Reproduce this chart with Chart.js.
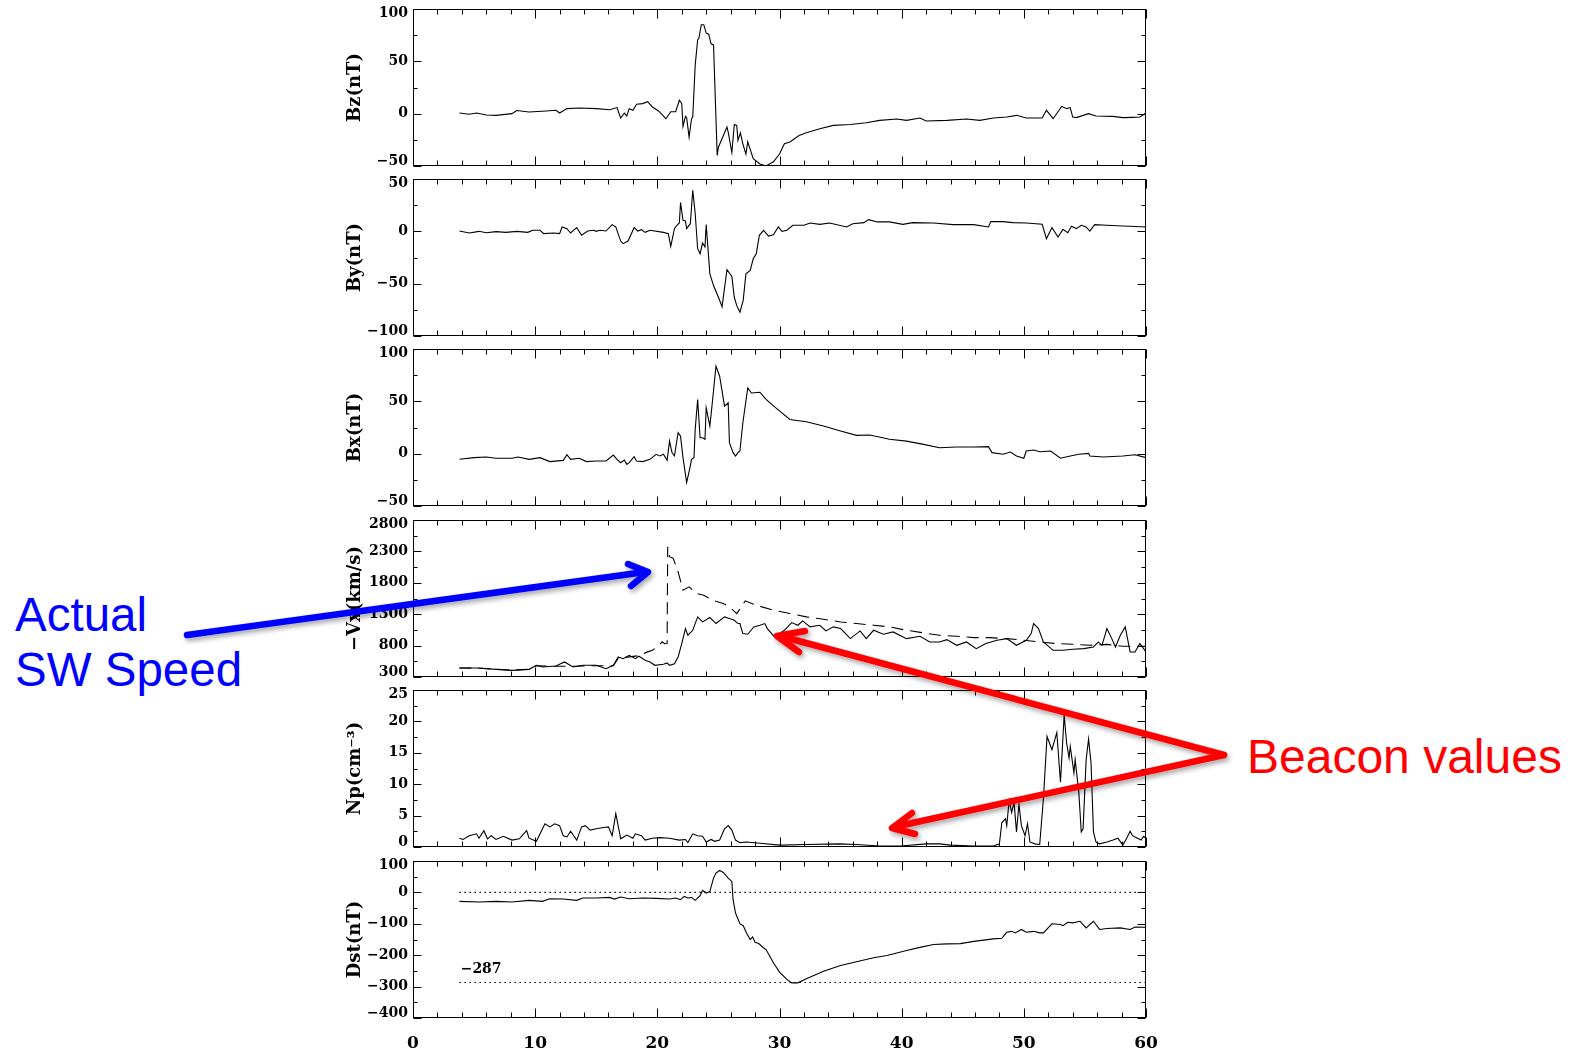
<!DOCTYPE html>
<html>
<head>
<meta charset="utf-8">
<script src="https://cdn.jsdelivr.net/npm/chart.js@4.4.1/dist/chart.umd.min.js"></script>
<style>
  html, body { margin: 0; padding: 0; background: #fff; }
  body { width: 1578px; height: 1050px; position: relative; overflow: hidden; }
  canvas.panel { position: absolute; left: 330px; }
  .note { position: absolute; font-family: "Liberation Sans", Arial, Helvetica, sans-serif; white-space: nowrap; }
  #overlay { position: absolute; left: 0; top: 0; pointer-events: none; }
</style>
</head>
<body>
<div class="note" style="left:15px; top:587px; color:#0000ff; font-size:47.5px; line-height:55px">Actual<br>SW Speed</div>
<div class="note" style="left:1247px; top:731px; color:#ff0000; font-size:48px; line-height:52px">Beacon values</div>
<svg id="overlay" width="1578" height="1050">
  <defs>
    <filter id="shadow" x="-10%" y="-50%" width="120%" height="200%">
      <feDropShadow dx="2" dy="3" stdDeviation="2.5" flood-color="#000" flood-opacity="0.35"/>
    </filter>
  </defs>
  <g filter="url(#shadow)" stroke-linecap="round" stroke-linejoin="round" fill="none" stroke-width="6.5">
    <g stroke="#0000ff">
      <line x1="187" y1="635" x2="645" y2="572"/>
      <polyline points="628,564 648,572 631,586"/>
    </g>
    <g stroke="#ff0000">
      <line x1="1224" y1="755" x2="780" y2="636"/>
      <polyline points="805,631 777,636 799,652"/>
      <line x1="1224" y1="755" x2="894" y2="827"/>
      <polyline points="912,813 892,828 915,834"/>
    </g>
  </g>
</svg>
<script>
const SERIF = '"DejaVu Serif", "Liberation Serif", serif'

// tick labels
const xMajorTicks = [0, 10, 20, 30, 40, 50, 60]
const bzTicks = [-50, 0, 50, 100]
const byTicks = [-100, -50, 0, 50]
const bxTicks = [-50, 0, 50, 100]
const vxTicks = [300, 800, 1300, 1800, 2300, 2800]
const npTicks = [0, 5, 10, 15, 20, 25]
const dstTicks = [-400, -300, -200, -100, 0, 100]

// series, [hours, value]
const bzData = [[3.8,0.6],[4.6,-0.6],[5.2,0.6],[6.0,-1.3],[6.8,-1.6],[8.1,0],[8.5,3],[9.5,1.6],[10.9,2.6],[11.7,3.2],[12.0,0.6],[12.6,4.8],[13.7,5.4],[15.0,4.8],[16.1,3.8],[16.7,5.8],[17.0,-4.2],[17.3,0.6],[17.5,-2.2],[17.7,4.8],[18.0,3.2],[18.3,9],[18.8,9.6],[19.2,11.5],[19.6,6.4],[20.1,2.6],[20.7,-4.8],[21.1,1.9],[21.5,1.9],[21.8,12.8],[22.0,9.6],[22.1,-12.2],[22.3,-2.6],[22.4,-3.8],[22.6,-22.4],[22.8,-4.8],[22.9,-3.2],[23.1,46.5],[23.3,70.5],[23.4,72],[23.6,85],[23.8,85],[24.0,77],[24.2,76],[24.4,66.7],[24.6,65.7],[24.9,-40],[25.0,-32],[25.7,-12.8],[25.8,-17.6],[26.1,-37.2],[26.3,-10.3],[26.5,-11.2],[26.6,-25.6],[26.8,-18.3],[27.0,-28.8],[27.25,-38.5],[27.4,-27],[27.85,-43],[28.4,-48],[28.9,-50],[29.5,-46],[30.0,-38.5],[30.4,-28.8],[30.85,-27],[31.6,-20.8],[32.2,-18.3],[33.3,-14.4],[34.4,-11.2],[35.8,-10.3],[37.1,-8.7],[38.2,-6.4],[39.6,-5.1],[40.4,-6.4],[41.5,-4.2],[42.0,-7],[43.7,-6.4],[45.3,-5.1],[46.4,-6.4],[47.5,-4.2],[48.6,-3.2],[49.4,-1.6],[50.2,-4.2],[51.5,-4.2],[51.85,3.2],[52.4,-4.8],[53.1,7],[53.5,4.8],[53.8,5.8],[54.0,-3.2],[54.3,-3.8],[55.3,0],[55.9,-2.2],[57.3,-2.6],[58.1,-3.8],[58.9,-3.5],[59.5,-3.2],[60.0,0.6]]

const byData = [[3.8,0.3],[4.6,-1.6],[5.4,0],[6.0,-1.3],[6.8,-0.3],[7.6,-1],[8.5,0],[9.4,-1],[9.8,1],[10.4,1],[10.7,-2.2],[11.5,-1.6],[12.0,-2.2],[12.2,4.2],[12.6,2.6],[12.9,-1.6],[13.4,3.5],[13.8,-3.8],[14.3,0.3],[14.8,1],[15.0,0],[15.3,1],[15.8,0.3],[16.3,6.4],[16.6,4.2],[17.0,-9.3],[17.2,-11.8],[17.6,-9.3],[18.1,3.5],[18.4,0.3],[18.7,1.6],[19.0,-1],[19.4,1],[20.5,-1],[20.9,-2.2],[21.1,-14.4],[21.4,2.6],[21.6,5.8],[21.8,8],[21.9,27.5],[22.1,10.5],[22.3,10],[22.4,2.6],[22.7,7.3],[22.9,39.3],[23.1,17],[23.3,-16.6],[23.5,-21.4],[23.7,-11.2],[23.9,-15],[24.0,6.4],[24.3,-40.6],[24.6,-51.8],[25.0,-63],[25.3,-72],[25.7,-36.7],[26.1,-43],[26.3,-63],[26.5,-71],[26.76,-77.3],[27.03,-66],[27.25,-40.6],[27.6,-37.4],[27.85,-26.2],[28.1,-21.4],[28.35,-3.8],[28.7,1],[29.1,-4.5],[29.5,-3.2],[29.9,4.2],[30.2,0],[30.6,1],[31.1,5.8],[32.0,5.8],[32.5,8],[33.3,6.7],[34.1,8],[35.5,4.2],[36.0,7.3],[36.9,8.3],[37.3,11.2],[38.0,9],[39.0,9],[40.1,6.7],[40.9,8.3],[42.6,8],[44.2,6.4],[45.9,6.4],[47.1,4.2],[47.3,9.3],[48.3,9.3],[49.1,8.3],[50.2,8],[51.5,6.7],[51.85,-7],[52.3,3.5],[52.8,-5.4],[53.2,1.9],[53.6,-1.3],[53.9,4.8],[54.3,2.6],[54.7,5.8],[55.1,4.2],[55.4,0.3],[55.8,6.4],[56.8,5.8],[58.1,5.1],[58.7,4.8],[60.0,4.2]]

const bxData = [[3.8,-5.4],[5.0,-3.8],[6.0,-3.2],[6.8,-4.4],[8.1,-4.4],[8.6,-3.2],[9.5,-5.4],[10.4,-3.8],[11.2,-7.6],[12.3,-6.4],[12.6,-1],[12.9,-5.4],[13.6,-4.4],[14.2,-7.6],[15.0,-7],[15.8,-7],[16.4,-1.3],[16.7,-5.4],[17.0,-8.6],[17.3,-6],[17.5,-10.2],[17.7,-8.6],[18.1,-2.9],[18.3,-7],[18.8,-7.6],[19.4,-5.4],[19.9,-0.6],[20.2,-2.2],[20.5,-0.6],[20.8,-6.4],[21.0,12],[21.2,1],[21.4,-2.2],[21.7,20],[21.9,16.8],[22.1,-3.8],[22.4,-27.6],[22.7,-11.7],[22.8,-5.4],[23.0,-3.8],[23.1,23.2],[23.3,51.8],[23.5,15.2],[23.7,15.2],[23.9,13.7],[24.0,43.8],[24.3,26.4],[24.5,48.6],[24.8,83.5],[25.1,74],[25.5,45.4],[25.8,48.6],[25.9,10.5],[26.2,1],[26.4,-2.2],[26.6,1],[26.76,2.5],[27.0,29.5],[27.4,62.9],[27.7,58],[28.4,58.7],[28.9,51.8],[29.7,43.8],[30.85,32.7],[32.2,30.5],[33.6,26.4],[35.0,21.6],[36.3,17.5],[37.4,17.8],[39.0,13.7],[40.4,12],[41.8,8.9],[43.1,5.7],[44.5,6.4],[45.9,6.4],[47.1,6.7],[47.4,1],[48.3,-0.6],[48.9,1.6],[49.4,-2.2],[50.0,-4.4],[50.2,2.5],[50.8,3.5],[51.3,1.9],[52.2,2.5],[53.0,-4.4],[53.8,-2.2],[54.5,-0.6],[55.3,0.3],[55.4,-2.2],[56.5,-3.2],[58.1,-2.2],[59.1,-1],[60.0,-3.8]]

// -Vx: solid = beacon values, dashed = actual speed
const vxBeacon = [[3.8,443],[5.4,443],[6.8,422],[8.1,406],[9.5,422],[10.1,486],[10.6,459],[11.7,475],[12.4,539],[13.1,459],[13.9,486],[15.0,486],[15.8,433],[16.4,486],[16.8,619],[17.2,592],[17.7,645],[18.2,592],[18.5,630],[19.0,566],[19.4,539],[19.8,486],[20.5,502],[20.8,523],[21.0,486],[21.4,512],[21.7,619],[22.0,832],[22.3,1071],[22.5,965],[22.9,1044],[23.3,1257],[23.7,1177],[24.3,1247],[24.8,1151],[25.5,1257],[25.9,1230],[26.3,1204],[26.6,1151],[26.76,1151],[27.0,991],[27.4,981],[27.9,1098],[28.4,1124],[28.8,1151],[29.0,1071],[29.6,938],[30.0,991],[30.4,1044],[31.0,1167],[31.5,1124],[31.9,1194],[32.5,1098],[33.3,1124],[33.8,1034],[34.4,1098],[35.0,1071],[35.8,911],[36.6,1034],[37.1,911],[37.7,1044],[38.5,981],[39.3,1018],[40.4,911],[41.5,949],[42.3,858],[43.1,858],[43.7,895],[44.5,805],[45.3,858],[46.1,752],[46.9,832],[47.8,885],[48.6,911],[49.4,805],[50.2,885],[50.6,991],[50.8,1151],[51.2,1071],[51.6,858],[52.4,725],[53.2,725],[54.0,741],[54.9,752],[55.7,778],[56.1,858],[56.4,805],[56.8,1071],[57.2,911],[57.5,778],[57.9,965],[58.3,1098],[58.7,699],[59.1,699],[59.5,832],[60.0,699]]

const vxActual = [[3.8,443],[5.4,440],[6.8,425],[8.1,410],[9.5,425],[10.1,480],[11.7,470],[13.1,470],[15.0,480],[16.4,480],[16.8,600],[17.7,620],[18.5,640],[19.2,700],[19.6,725],[20.1,800],[20.4,860],[20.6,830],[20.8,832],[20.85,2374],[21.0,2215],[21.3,2188],[21.7,1975],[22.1,1683],[22.6,1736],[23.2,1630],[23.8,1603],[24.5,1523],[25.4,1470],[25.9,1417],[26.5,1310],[27.2,1513],[28.1,1443],[29.5,1364],[30.85,1310],[32.2,1257],[33.6,1220],[35.0,1177],[36.3,1151],[37.7,1124],[39.0,1098],[40.4,1044],[41.8,1002],[43.1,965],[44.5,949],[45.9,927],[47.2,927],[48.6,911],[50.0,885],[51.3,858],[52.7,832],[54.0,821],[55.4,805],[56.8,820],[58.1,790],[60.0,790]]

const npData = [[3.8,1.4],[4.1,1.2],[4.6,1.8],[5.2,2.1],[5.4,1.4],[5.8,2.6],[6.1,1.3],[6.4,1.8],[6.8,1.2],[7.4,1.7],[8.1,1.1],[8.7,1.3],[9.3,2.6],[9.5,1.4],[10.1,0.9],[10.8,3.7],[11.2,3.2],[11.6,3.7],[12.0,3.4],[12.3,1.8],[12.6,1.6],[12.9,2.5],[13.4,1.1],[13.8,3.2],[14.1,3.4],[14.5,2.7],[15.0,2.9],[15.6,3.1],[16.0,3.2],[16.3,1.8],[16.6,5.3],[17.0,1.3],[17.5,1.9],[18.0,1.4],[18.2,2.1],[18.7,1.8],[19.0,1.1],[19.6,1.4],[20.2,1.5],[21.0,1.4],[21.8,1.1],[22.3,1.2],[22.5,0.7],[22.9,2.1],[23.3,1.8],[23.7,1.7],[24.0,0.8],[24.4,1.2],[24.7,0.9],[25.1,1.1],[25.5,2.9],[25.8,3.4],[26.1,2.7],[26.4,1.1],[26.76,0.7],[27.3,0.8],[28.4,0.6],[30.0,0.3],[32.2,0.4],[34.9,0.5],[36.3,0.4],[38.2,0.15],[39.9,0.15],[42.0,0.5],[43.1,0.5],[44.0,0.3],[45.9,0.15],[47.5,0.15],[48.0,0.5],[48.2,3.9],[48.5,4.5],[48.6,3.4],[48.8,7.4],[49.0,5.5],[49.2,7.1],[49.4,2.4],[49.6,6.8],[49.8,3.4],[50.1,1.8],[50.3,3.7],[50.5,0.8],[50.9,0.5],[51.3,0.4],[51.6,7.6],[51.9,17.6],[52.3,15.5],[52.7,18.2],[53.0,10.3],[53.3,21],[53.5,16.6],[53.7,14.2],[53.8,16],[54.1,11.8],[54.2,13.9],[54.5,8.7],[54.7,2.4],[54.85,2.9],[55.1,13.9],[55.3,17.2],[55.5,13.4],[55.7,2.4],[55.9,0.8],[56.2,0.5],[56.8,0.8],[57.3,1.1],[57.7,1.4],[58.1,0.3],[58.4,1.3],[58.7,2.5],[58.9,1.8],[59.3,1.4],[59.6,1.1],[59.8,1.7],[60.0,1.4]]

const dstData = [[3.8,-28.6],[5.4,-30.7],[6.8,-28.6],[8.1,-30.7],[9.5,-25.4],[10.6,-28.6],[11.2,-20.1],[12.3,-21.2],[13.4,-25.4],[13.9,-18],[15.0,-18],[16.1,-15.9],[16.5,-21.2],[17.0,-14.8],[17.7,-20.1],[18.8,-18],[19.9,-19],[21.0,-21.2],[21.5,-18],[21.9,-23.3],[22.2,-12.7],[22.5,-18],[22.8,-15.9],[23.1,-25.4],[23.5,-10.6],[23.7,6.3],[24.0,-2.1],[24.3,3.2],[24.6,45.5],[24.8,61.4],[25.1,69.8],[25.4,63.5],[25.8,45.5],[26.1,34.9],[26.2,-23.3],[26.4,-65.6],[26.76,-99.5],[27.03,-106],[27.3,-129],[27.6,-150],[27.8,-142],[28.0,-159],[28.3,-163],[28.7,-177],[28.9,-182],[29.5,-224],[30.0,-254],[30.6,-277],[31.0,-288],[31.5,-288],[32.2,-275],[33.6,-251],[35.0,-233],[36.3,-221],[37.7,-208],[38.8,-201],[40.4,-185],[41.5,-175],[42.6,-166],[43.7,-164],[44.8,-163],[45.9,-156],[47.5,-148],[48.2,-146],[48.6,-127],[49.0,-124],[49.3,-129],[49.8,-118],[50.2,-127],[50.8,-124],[51.3,-129],[51.6,-129],[52.3,-100],[53.0,-102],[53.2,-106],[53.6,-95],[54.0,-97],[54.6,-92],[55.1,-113],[55.7,-92],[56.2,-118],[56.8,-115],[57.9,-113],[58.7,-118],[59.1,-110],[60.0,-111]]

const dstLevels = [0, -287]
const levelSpan = [3.8, 60]

const PANEL_H = 157
const panelTops = [9, 179, 349, 520, 690, 861]

const fmt = v => String(Math.round(v * 100) / 100).replace('-', '\u2212')
const toXY = pairs => pairs.map(([x, y]) => ({x, y}))

function withMinor(majors, sub) {
    const out = []
    majors.forEach((v, i) => {
        out.push({value: v, isMajor: true})
        if (i < majors.length - 1) {
            const step = (majors[i + 1] - v) / sub
            for (let k = 1; k < sub; k++) out.push({value: v + k * step, isMajor: false})
        }
    })
    return out
}

// end labels of the y axis sit inside the box, like IDL does
function yLabel(v, idx, ts) {
    if (!ts[idx].isMajor) return ''
    if (idx === 0) return [fmt(v), '']
    if (idx === ts.length - 1) return ['', fmt(v)]
    return fmt(v)
}

// IDL style box with ticks pointing inward on all four sides
const idlFrame = {
    id: 'idlFrame',
    afterDraw(chart, args, opts) {
        const {ctx, chartArea: a, scales: {x, y}} = chart
        const L = Math.round(a.left) + 0.5, R = Math.round(a.right) - 0.5
        const T = Math.round(a.top) + 0.5, B = Math.round(a.bottom) - 0.5
        ctx.save()
        ctx.strokeStyle = '#000'
        ctx.lineWidth = 1
        ctx.strokeRect(L, T, R - L, B - T)
        ctx.beginPath()
        x.ticks.forEach(t => {
            const px = Math.round(x.getPixelForValue(t.value)) + 0.5
            const len = t.isMajor ? 9 : 5
            ctx.moveTo(px, B); ctx.lineTo(px, B - len)
            ctx.moveTo(px, T); ctx.lineTo(px, T + len)
        })
        y.ticks.forEach(t => {
            const py = Math.round(y.getPixelForValue(t.value)) + 0.5
            const len = t.isMajor ? 8 : 4
            ctx.moveTo(L, py); ctx.lineTo(L + len, py)
            ctx.moveTo(R, py); ctx.lineTo(R - len, py)
        })
        ctx.stroke()
        if (opts.label) {
            ctx.fillStyle = '#000'
            ctx.font = 'bold 14px ' + SERIF
            ctx.textBaseline = 'middle'
            ctx.fillText(opts.label.text, x.getPixelForValue(opts.label.x), y.getPixelForValue(opts.label.y))
        }
        ctx.restore()
    }
}

const solid = data => ({data})
const panels = [
    {title: 'Bz(nT)', ticks: bzTicks, lines: [solid(bzData)]},
    {title: 'By(nT)', ticks: byTicks, lines: [solid(byData)]},
    {title: 'Bx(nT)', ticks: bxTicks, lines: [solid(bxData)]},
    {title: '\u2212Vx(km/s)', ticks: vxTicks, lines: [solid(vxBeacon), {data: vxActual, dash: [12, 7]}]},
    {title: 'Np(cm\u207B\u00B3)', ticks: npTicks, lines: [solid(npData)]},
    {title: 'Dst(nT)', ticks: dstTicks,
        lines: [solid(dstData)].concat(dstLevels.map(lv => ({data: levelSpan.map(t => [t, lv]), dash: [1.5, 3.5]}))),
        label: {text: fmt(dstLevels[1]), x: 3.9, y: -245}},
]

panels.forEach((p, i) => {
    const isLast = i === panels.length - 1
    const canvas = document.createElement('canvas')
    canvas.className = 'panel'
    canvas.width = 830
    canvas.height = isLast ? 12 + PANEL_H + 40 : 12 + PANEL_H + 12
    canvas.style.top = (panelTops[i] - 12) + 'px'
    document.body.insertBefore(canvas, document.getElementById('overlay'))

    new Chart(canvas, {
        type: 'line',
        data: {
            datasets: p.lines.map(l => ({
                data: toXY(l.data),
                borderColor: '#000',
                borderWidth: 1.1,
                borderDash: l.dash || [],
                pointRadius: 0,
                tension: 0,
            }))
        },
        options: {
            responsive: false,
            animation: false,
            events: [],
            layout: {padding: {top: 12, bottom: isLast ? 0 : 12, left: 0, right: 14}},
            plugins: {
                legend: {display: false},
                tooltip: {enabled: false},
                idlFrame: {label: p.label || null},
            },
            scales: {
                x: {
                    type: 'linear', min: 0, max: 60,
                    afterBuildTicks: s => { s.ticks = withMinor(xMajorTicks, 5) },
                    afterFit: s => {
                        s.height = isLast ? 40 : 0
                        s.paddingLeft = 0
                        s.paddingRight = 0
                    },
                    grid: {display: false, drawTicks: false},
                    border: {display: false},
                    ticks: {
                        display: isLast, autoSkip: false, maxRotation: 0, padding: 15, color: '#000',
                        font: {family: SERIF, size: 17, weight: 'bold'},
                        callback: (v, idx, ts) => ts[idx].isMajor ? fmt(v) : '',
                    },
                },
                y: {
                    type: 'linear', min: p.ticks[0], max: p.ticks[p.ticks.length - 1],
                    afterBuildTicks: s => { s.ticks = withMinor(p.ticks, 2) },
                    afterFit: s => {
                        s.width = 83
                        s.paddingTop = 0
                        s.paddingBottom = 0
                    },
                    grid: {display: false, drawTicks: false},
                    border: {display: false},
                    ticks: {
                        autoSkip: false, padding: 5, color: '#000',
                        font: {family: SERIF, size: 14, weight: 'bold', lineHeight: 0.65},
                        callback: yLabel,
                    },
                    title: {
                        display: true, text: p.title, color: '#000',
                        font: {family: SERIF, size: 18, weight: 'bold'},
                        padding: {top: 15, bottom: 0},
                    },
                },
            },
        },
        plugins: [idlFrame],
    })
})
</script>
</body>
</html>
